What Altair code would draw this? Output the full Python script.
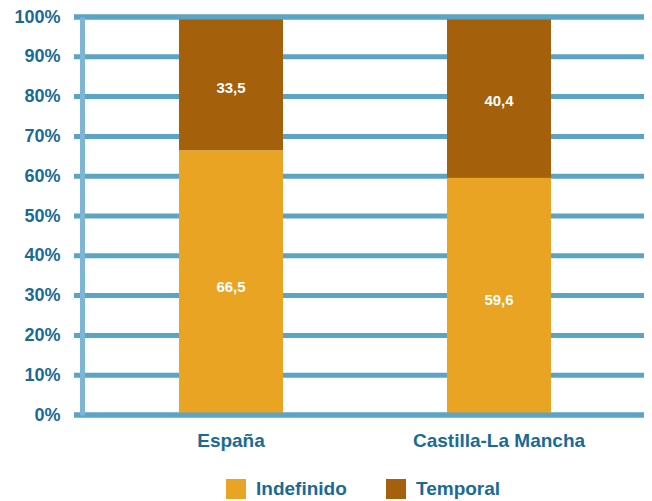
import altair as alt
import pandas as pd

regions = ["España", "Castilla-La Mancha"]
indefinido = [66.5, 59.6]
temporal = [33.5, 40.4]
series = ["Indefinido", "Temporal"]
colors = ["#E9A424", "#A4600B"]
y_ticks = list(range(0, 101, 10))

rows = []
for i, r in enumerate(regions):
    for k, (s, vals) in enumerate(zip(series, [indefinido, temporal])):
        rows.append({"region": r, "serie": s, "value": vals[i], "ord": k,
                     "label": f"{vals[i]:.1f}".replace(".", ",")})
df = pd.DataFrame(rows)

W, H = 562, 398
BLUE = "#5CA4C5"
AXBLUE = "#7DB5D5"
TXT = "#1A6A96"
FONT = "Liberation Sans"

yscale = alt.Scale(domain=[0, 100])

base = alt.Chart(df).transform_stack(
    stack="value", as_=["v0", "v1"], groupby=["region"], sort=[alt.SortField("ord")]
).transform_calculate(mid="(datum.v0 + datum.v1) / 2")

x = alt.X("region:N", sort=regions,
          scale=alt.Scale(range=[15, 551], paddingInner=0, paddingOuter=0),
          axis=alt.Axis(title=None, labelAngle=0, labelFont=FONT, labelFontSize=19,
                        labelFontWeight="bold", labelColor=TXT, ticks=False,
                        domain=False, labelPadding=16))

yaxis = alt.Axis(values=y_ticks, labelExpr="datum.value + '%'", grid=False,
                 ticks=False, labelOverlap=False, zindex=1,
                 domainColor=AXBLUE, domainWidth=5,
                 labelFont=FONT, labelFontSize=18, labelFontWeight="bold",
                 labelColor=TXT, labelPadding=22, title=None)

tick_df = pd.DataFrame({"tick": y_ticks})

grid = alt.Chart(tick_df).mark_rule(color=BLUE, strokeWidth=5).encode(
    y=alt.Y("tick:Q", scale=yscale, axis=yaxis),
    x=alt.value(-8), x2=alt.value(W))

bars = base.mark_bar(size=104).encode(
    x=x,
    y=alt.Y("v0:Q", scale=yscale, axis=yaxis),
    y2="v1:Q",
    color=alt.Color("serie:N", scale=alt.Scale(domain=series, range=colors),
                    legend=alt.Legend(title=None, orient="none", legendX=144, legendY=462,
                                      direction="horizontal", symbolType="square",
                                      symbolSize=400, symbolStrokeWidth=0,
                                      symbolOpacity=1,
                                      labelFont=FONT, labelFontSize=19,
                                      labelFontWeight="bold", labelColor=TXT,
                                      labelOffset=10, columnPadding=39, padding=0)),
    order=alt.Order("ord:Q"),
)

labels = base.mark_text(color="white", font=FONT, fontSize=15, fontWeight="bold",
                        dy=4).encode(
    x=x,
    y=alt.Y("mid:Q", scale=yscale, axis=yaxis),
    text="label:N",
)

frame = alt.Chart(pd.DataFrame({"y": [y_ticks[0], y_ticks[-1]]})).mark_rule(
    color=BLUE, strokeWidth=5).encode(
    y=alt.Y("y:Q", scale=yscale, axis=yaxis), x=alt.value(-8), x2=alt.value(W))

chart = alt.layer(grid, bars, labels, frame).properties(
    width=W, height=H,
    autosize=alt.AutoSizeParams(type="none"),
    padding={"left": 74, "top": 9, "right": 0, "bottom": 86},
).configure_view(stroke=None).configure(font=FONT)

chart.save("out.html", embed_options={"renderer": "svg", "actions": False})
